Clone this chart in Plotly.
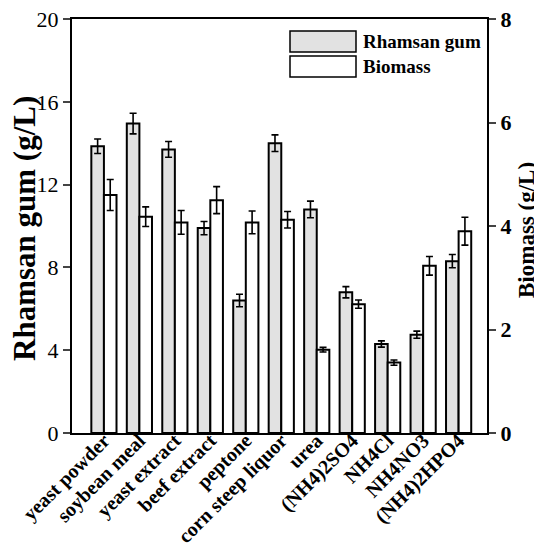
import plotly.graph_objects as go

categories = ["yeast powder", "soybean meal", "yeast extract", "beef extract", "peptone",
              "corn steep liquor", "urea", "(NH4)2SO4", "NH4Cl", "NH4NO3", "(NH4)2HPO4"]
gum = [13.85, 14.95, 13.7, 9.9, 6.4, 14.0, 10.8, 6.8, 4.3, 4.75, 8.3]
gum_err = [0.35, 0.5, 0.38, 0.32, 0.3, 0.4, 0.4, 0.27, 0.15, 0.17, 0.32]
biomass = [4.6, 4.18, 4.07, 4.5, 4.07, 4.12, 1.61, 2.49, 1.36, 3.23, 3.9]
biomass_err = [0.3, 0.19, 0.23, 0.26, 0.22, 0.16, 0.045, 0.08, 0.05, 0.18, 0.27]
legend_names = ["Rhamsan gum", "Biomass"]
axis_titles = ["Rhamsan gum (g/L)", "Biomass (g/L)"]

serif = "Liberation Serif, Times New Roman, serif"
GRAY = "#e2e2e2"

# page has an 8px body margin; figure coordinates = page coordinates - 8
OFF = 8
W, H = 542 - OFF, 548 - OFF
ML, MR, MT, MB = 72 - OFF, 55, 19 - OFF, 115
pw, ph = W - ML - MR, H - MT - MB

def px(x):
    return (x - OFF - ML) / pw

def py(y):
    return 1 - (y - OFF - MT) / ph

fig = go.Figure()
fig.add_trace(go.Bar(
    x=categories, y=gum, name=legend_names[0], yaxis="y", offsetgroup="1",
    marker=dict(color=GRAY, line=dict(color="black", width=2)),
    error_y=dict(type="data", array=gum_err, color="black", thickness=1.6, width=3.5),
    showlegend=False,
))
fig.add_trace(go.Bar(
    x=categories, y=biomass, name=legend_names[1], yaxis="y2", offsetgroup="2",
    marker=dict(color="white", line=dict(color="black", width=2)),
    error_y=dict(type="data", array=biomass_err, color="black", thickness=1.6, width=3.5),
    showlegend=False,
))

legend_boxes = [(31, 52, GRAY), (56, 77, "white")]
for (y0, y1, col), name in zip(legend_boxes, legend_names):
    fig.add_shape(type="rect", xref="paper", yref="paper",
                  x0=px(290), x1=px(356), y0=py(y1), y1=py(y0),
                  fillcolor=col, line=dict(color="black", width=1.5))
    fig.add_annotation(xref="paper", yref="paper", x=px(361), y=py((y0 + y1) / 2),
                       text=name, showarrow=False, xanchor="left", yanchor="middle",
                       font=dict(family=serif, size=19, color="black", weight="bold"))

fig.add_annotation(xref="paper", yref="paper", x=px(24), y=py(229), text=axis_titles[0],
                   textangle=-90, showarrow=False, xanchor="center", yanchor="middle",
                   font=dict(family=serif, size=31, color="black", weight="bold"))
fig.add_annotation(xref="paper", yref="paper", x=px(526), y=py(230), text=axis_titles[1],
                   textangle=-90, showarrow=False, xanchor="center", yanchor="middle",
                   font=dict(family=serif, size=23, color="black", weight="bold"))

fig.update_layout(
    width=W, height=H,
    margin=dict(l=ML, r=MR, t=MT, b=MB, pad=0),
    plot_bgcolor="white", paper_bgcolor="white",
    barmode="group", bargap=0.29, bargroupgap=0,
    font=dict(family=serif, color="black"),
    showlegend=False,
    xaxis=dict(range=[-0.9, 10.8], showline=True, linecolor="black", linewidth=2,
               mirror=True, ticks="", tickangle=-45, automargin=False,
               ticklabelstandoff=-14, ticklabeloverflow="allow",
               tickfont=dict(family=serif, size=20, color="black", weight="bold")),
    yaxis=dict(range=[0, 20], tickvals=[0, 4, 8, 12, 16, 20], showline=True,
               linecolor="black", linewidth=2, ticks="outside", ticklen=7, tickwidth=2,
               showgrid=False, zeroline=False, automargin=False,
               ticklabeloverflow="allow",
               tickfont=dict(family=serif, size=22, color="black")),
    yaxis2=dict(range=[0, 8], tickvals=[0, 2, 4, 6, 8], overlaying="y", side="right",
                showline=True, linecolor="black", linewidth=2, ticks="outside",
                ticklen=7, tickwidth=2, showgrid=False, zeroline=False, automargin=False,
                ticklabeloverflow="allow",
                tickfont=dict(family=serif, size=22, color="black", weight="bold")),
)

fig.write_html("out.html")
